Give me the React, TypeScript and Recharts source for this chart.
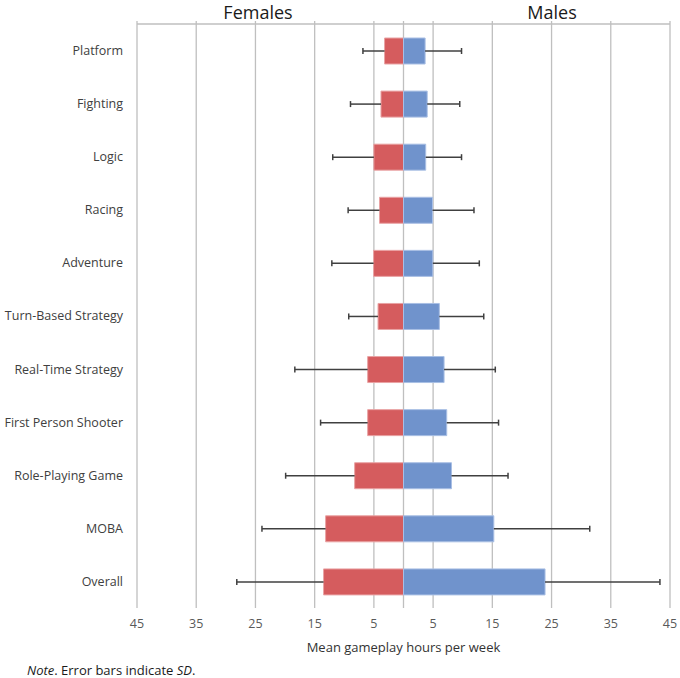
import {
  BarChart,
  Bar,
  XAxis,
  YAxis,
  CartesianGrid,
} from 'recharts'

const genres = [
  'Platform',
  'Fighting',
  'Logic',
  'Racing',
  'Adventure',
  'Turn-Based Strategy',
  'Real-Time Strategy',
  'First Person Shooter',
  'Role-Playing Game',
  'MOBA',
  'Overall',
]
const femaleMean = [3.2, 3.8, 5.0, 4.05, 5.05, 4.3, 6.05, 6.05, 8.25, 13.15, 13.5]
const femaleSD = [3.65, 5.15, 6.95, 5.3, 7.05, 4.95, 12.3, 7.95, 11.65, 10.75, 14.65]
const maleMean = [3.65, 4.0, 3.75, 4.9, 4.95, 6.05, 6.85, 7.3, 8.1, 15.25, 23.9]
const maleSD = [6.15, 5.5, 6.05, 7.0, 7.85, 7.5, 8.65, 8.75, 9.55, 16.2, 19.4]

const gridTicks = [-45, -35, -25, -15, -5, 0, 5, 15, 25, 35, 45]

// females go to the left, so their values are negative; the SD sits stacked past the mean
const data = genres.map((genre, i) => ({
  genre,
  female: -femaleMean[i],
  femaleSD: -femaleSD[i],
  male: maleMean[i],
  maleSD: maleSD[i],
}))

const font = '"Open Sans", sans-serif'
const red = '#d55c5e'
const redEdge = '#e9a3a4'
const blue = '#7093cc'
const blueEdge = '#a9bfe4'
const whiskerColor = '#404040'

const whisker = (side: 'left' | 'right') => (props: any) => {
  const { x, y, width, height } = props
  const a = x
  const b = x + width
  const inner = side === 'left' ? Math.max(a, b) : Math.min(a, b)
  const outer = side === 'left' ? Math.min(a, b) : Math.max(a, b)
  const cy = y + height / 2
  return (
    <g>
      <line x1={inner} x2={outer} y1={cy} y2={cy} stroke={whiskerColor} strokeWidth={1.5} />
      <line x1={outer} x2={outer} y1={cy - 3} y2={cy + 3} stroke={whiskerColor} strokeWidth={1.5} />
    </g>
  )
}

export default function App() {
  return (
    <div style={{ position: 'absolute', left: 0, top: 0, width: 680, height: 678, background: '#fff', fontFamily: font }}>
      <div style={{ position: 'absolute', left: 258, top: 3, transform: 'translateX(-50%)', fontSize: 18, color: '#1a1a1a', lineHeight: 1 }}>
        Females
      </div>
      <div style={{ position: 'absolute', left: 552, top: 3, transform: 'translateX(-50%)', fontSize: 18, color: '#1a1a1a', lineHeight: 1 }}>
        Males
      </div>
      <BarChart
        width={680}
        height={678}
        data={data}
        layout="vertical"
        stackOffset="sign"
        barGap={-26}
        margin={{ top: 0, right: 10, bottom: 20, left: 0 }}
      >
        <CartesianGrid xAxisId="bottom" vertical horizontal={false} stroke="#bfbfbf" strokeWidth={1.3} />
        <XAxis
          xAxisId="top"
          orientation="top"
          type="number"
          domain={[-45, 45]}
          ticks={gridTicks}
          interval={0}
          height={24}
          tickSize={3}
          tickFormatter={() => ''}
          axisLine={{ stroke: '#bfbfbf', strokeWidth: 1.3 }}
          tickLine={{ stroke: '#bfbfbf', strokeWidth: 1.3 }}
        />
        <XAxis
          xAxisId="bottom"
          orientation="bottom"
          type="number"
          domain={[-45, 45]}
          ticks={gridTicks}
          interval={0}
          height={50}
          axisLine={false}
          tickLine={false}
          tickMargin={5}
          tickFormatter={(v: number) => (v === 0 ? '' : String(Math.abs(v)))}
          tick={{ fontSize: 12.5, fill: '#595959', fontFamily: font }}
          label={{ value: 'Mean gameplay hours per week', position: 'insideBottom', offset: 6, fontSize: 13, fill: '#333', fontFamily: font }}
        />
        <YAxis
          type="category"
          dataKey="genre"
          width={137}
          axisLine={false}
          tickLine={false}
          tickSize={0}
          tickMargin={14}
          tick={{ fontSize: 12.5, fill: '#404040', fontFamily: font }}
        />
        <Bar dataKey="female" xAxisId="bottom" stackId="g" barSize={26} fill={red} stroke={redEdge} strokeWidth={1} isAnimationActive={false} />
        <Bar dataKey="femaleSD" xAxisId="bottom" stackId="g" barSize={26} shape={whisker('left')} isAnimationActive={false} />
        <Bar dataKey="male" xAxisId="bottom" stackId="g" barSize={26} fill={blue} stroke={blueEdge} strokeWidth={1} isAnimationActive={false} />
        <Bar dataKey="maleSD" xAxisId="bottom" stackId="g" barSize={26} shape={whisker('right')} isAnimationActive={false} />
        {/* empty series so the top axis gets its ticks */}
        <Bar dataKey="male" xAxisId="top" stackId="t" barSize={26} fill="none" isAnimationActive={false} />
      </BarChart>
      <div style={{ position: 'absolute', left: 27, top: 662, fontSize: 13, color: '#1a1a1a', lineHeight: '16px' }}>
        <i>Note</i>. Error bars indicate <i>SD</i>.
      </div>
    </div>
  )
}
